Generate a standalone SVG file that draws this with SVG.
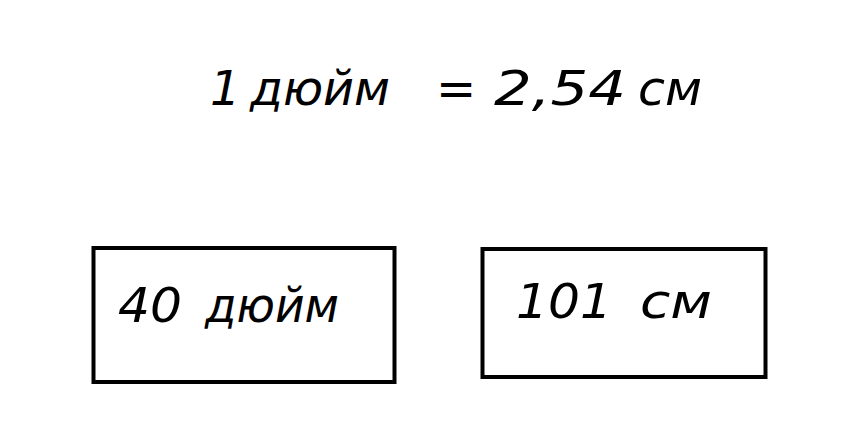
<svg xmlns="http://www.w3.org/2000/svg" width="868" height="426" viewBox="0 0 868 426">
<style>
.box{fill:none;stroke:#000;stroke-width:4}
.t{font-family:"DejaVu Sans","Liberation Sans",sans-serif;font-size:48px;fill:#000;font-style:italic}
</style>
<rect width="868" height="426" fill="#fff"/>
<g id="formula">
<text class="t" y="105"><tspan x="210">1</tspan><tspan x="250" textLength="140" lengthAdjust="spacingAndGlyphs">дюйм</tspan><tspan x="436">=</tspan><tspan x="494" textLength="132" lengthAdjust="spacingAndGlyphs">2,54</tspan><tspan x="638" textLength="64" lengthAdjust="spacingAndGlyphs">см</tspan></text>
</g>
<g id="inches">
<rect class="box" x="93.5" y="248" width="301" height="134"/>
<text class="t" y="322"><tspan x="118" textLength="64" lengthAdjust="spacingAndGlyphs">40</tspan><tspan x="205" textLength="134" lengthAdjust="spacingAndGlyphs">дюйм</tspan></text>
</g>
<g id="cm">
<rect class="box" x="482.5" y="249" width="283" height="128"/>
<text class="t" y="318"><tspan x="516" textLength="96" lengthAdjust="spacingAndGlyphs">101</tspan><tspan x="640" textLength="72" lengthAdjust="spacingAndGlyphs">см</tspan></text>
</g>
<g id="connectors"></g>
</svg>
